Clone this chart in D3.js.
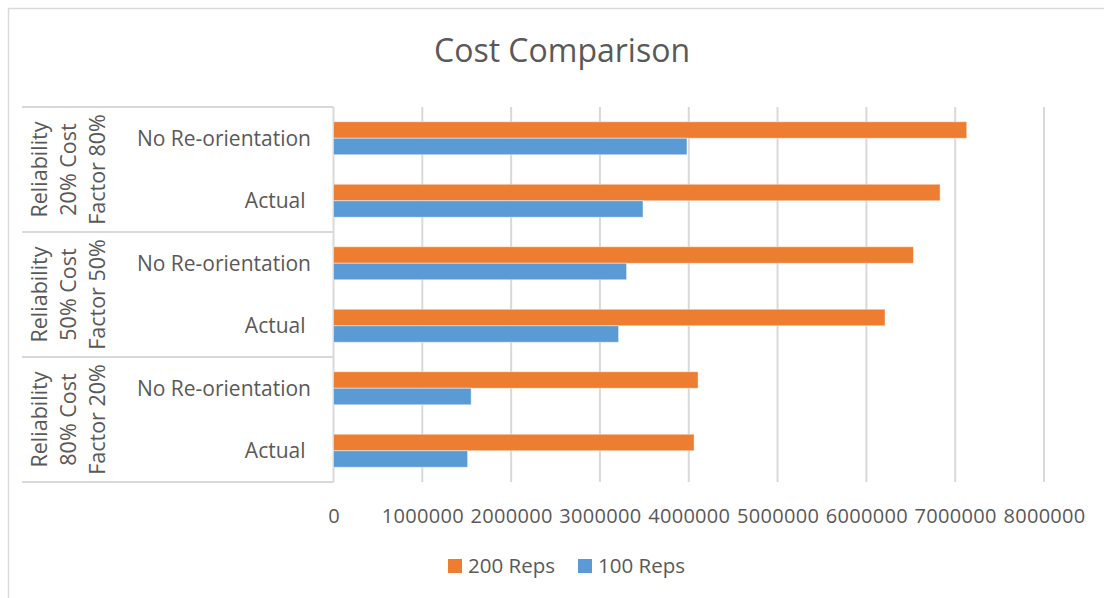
<!DOCTYPE html>
<html>
<head>
<meta charset="utf-8">
<script src="https://cdn.jsdelivr.net/npm/d3@7/dist/d3.min.js"></script>
<style>
  html, body { margin: 0; padding: 0; background: #fff; }
  svg { display: block; font-family: "Open Sans", "Noto Sans", sans-serif; }
  text { white-space: pre; }
</style>
</head>
<body>
<svg id="chart" width="1104" height="598"></svg>
<script>
// Scenario groups (top to bottom) and the two cases inside each group
const groups = [
  ["Reliability", "20% Cost", "Factor 80%"],
  ["Reliability", "50% Cost", "Factor 50%"],
  ["Reliability", "80% Cost", "Factor 20%"]
];
const cases = ["No Re-orientation", "Actual "];

// Series names and costs, one value per (group, case) in drawing order
const seriesNames = ["200 Reps", "100 Reps"];
const reps200 = [7130000, 6830000, 6530000, 6210000, 4105000, 4060000];
const reps100 = [3980000, 3485000, 3300000, 3210000, 1550000, 1510000];

const xTicks = [0, 1000000, 2000000, 3000000, 4000000, 5000000, 6000000, 7000000, 8000000];
const colors = ["#ED7D31", "#5B9BD5"];

const rows = [];
groups.forEach((g, gi) => cases.forEach((c, ci) => {
  const i = gi * cases.length + ci;
  rows.push({ id: i, group: gi, label: c, values: [reps200[i], reps100[i]] });
}));

const svg = d3.select("#chart");
const W = 1104, H = 598;
const plot = { left: 333.5, right: 1044, top: 107, bottom: 482 };
const catLeft = 22;
const gridColor = "#d9d9d9";
const textColor = "#595959";

svg.append("rect").attr("width", W).attr("height", H).attr("fill", "#fff");
// chart frame
svg.append("rect")
  .attr("x", 8.5).attr("y", 8.5).attr("width", W + 20).attr("height", H + 20)
  .attr("fill", "none").attr("stroke", gridColor).attr("stroke-width", 1.5);

const x = d3.scaleLinear().domain([0, 8000000]).range([plot.left, plot.right]);
const y = d3.scaleBand().domain(rows.map(r => r.id))
  .range([plot.top, plot.bottom]).paddingInner(0.472).paddingOuter(0.236);
const ySub = d3.scaleBand().domain(seriesNames).range([0, y.bandwidth()]);

// vertical gridlines
svg.append("g").selectAll("line")
  .data(xTicks.slice(1))
  .join("line")
  .attr("x1", d => x(d)).attr("x2", d => x(d))
  .attr("y1", plot.top).attr("y2", plot.bottom)
  .attr("stroke", gridColor).attr("stroke-width", 2);

// category table lines
const groupStep = (plot.bottom - plot.top) / groups.length;
svg.append("g").selectAll("line")
  .data(d3.range(groups.length + 1))
  .join("line")
  .attr("x1", catLeft).attr("x2", plot.left)
  .attr("y1", d => plot.top + d * groupStep).attr("y2", d => plot.top + d * groupStep)
  .attr("stroke", gridColor).attr("stroke-width", 2);
svg.append("line")
  .attr("x1", plot.left).attr("x2", plot.left)
  .attr("y1", plot.top).attr("y2", plot.bottom)
  .attr("stroke", gridColor).attr("stroke-width", 2);

// bars
const rowG = svg.append("g").selectAll("g")
  .data(rows).join("g")
  .attr("transform", d => `translate(0,${y(d.id)})`);
rowG.selectAll("rect")
  .data(d => d.values.map((v, k) => ({ v, k })))
  .join("rect")
  .attr("x", x(0))
  .attr("y", d => ySub(seriesNames[d.k]))
  .attr("width", d => x(d.v) - x(0))
  .attr("height", ySub.bandwidth())
  .attr("fill", d => colors[d.k])
  .attr("stroke", "rgba(255,255,255,0.45)").attr("stroke-width", 1);

// case labels
svg.append("g").selectAll("text")
  .data(rows).join("text")
  .attr("x", 311)
  .attr("y", d => y(d.id) + y.bandwidth() / 2)
  .attr("dy", "0.35em")
  .attr("text-anchor", "end")
  .attr("font-size", 21)
  .attr("fill", textColor)
  .text(d => d.label);

// group labels, rotated
const gl = svg.append("g").selectAll("g")
  .data(groups).join("g")
  .attr("transform", (d, i) => `translate(0,${plot.top + (i + 0.5) * groupStep})`);
gl.selectAll("text")
  .data(d => d).join("text")
  .attr("transform", (d, j) => `translate(${39 + j * 29},0) rotate(-90)`)
  .attr("text-anchor", "middle")
  .attr("dy", "0.35em")
  .attr("font-size", 21.5)
  .attr("fill", textColor)
  .text(d => d);

// x axis labels
const axis = d3.axisBottom(x).tickValues(xTicks).tickSize(0).tickPadding(0)
  .tickFormat(d3.format("d"));
const ax = svg.append("g").attr("transform", `translate(0,${plot.bottom})`).call(axis);
ax.select(".domain").remove();
ax.selectAll("text")
  .attr("y", 34).attr("dy", "0.35em")
  .attr("font-size", 20).attr("letter-spacing", "0.3px")
  .attr("font-family", "\"Open Sans\", sans-serif")
  .attr("fill", textColor);

// title
svg.append("text")
  .attr("x", 562).attr("y", 62)
  .attr("text-anchor", "middle")
  .attr("font-size", 32)
  .attr("fill", textColor)
  .text("Cost Comparison");

// legend
const legendItems = [
  { name: seriesNames[0], color: colors[0], x: 448 },
  { name: seriesNames[1], color: colors[1], x: 578 }
];
const lg = svg.append("g").selectAll("g")
  .data(legendItems).join("g")
  .attr("transform", d => `translate(${d.x},566)`);
lg.append("rect").attr("x", 0).attr("y", -7).attr("width", 14).attr("height", 14)
  .attr("fill", d => d.color);
lg.append("text").attr("x", 20).attr("dy", "0.35em")
  .attr("font-size", 20.5).attr("fill", textColor)
  .text(d => d.name);
</script>
</body>
</html>
